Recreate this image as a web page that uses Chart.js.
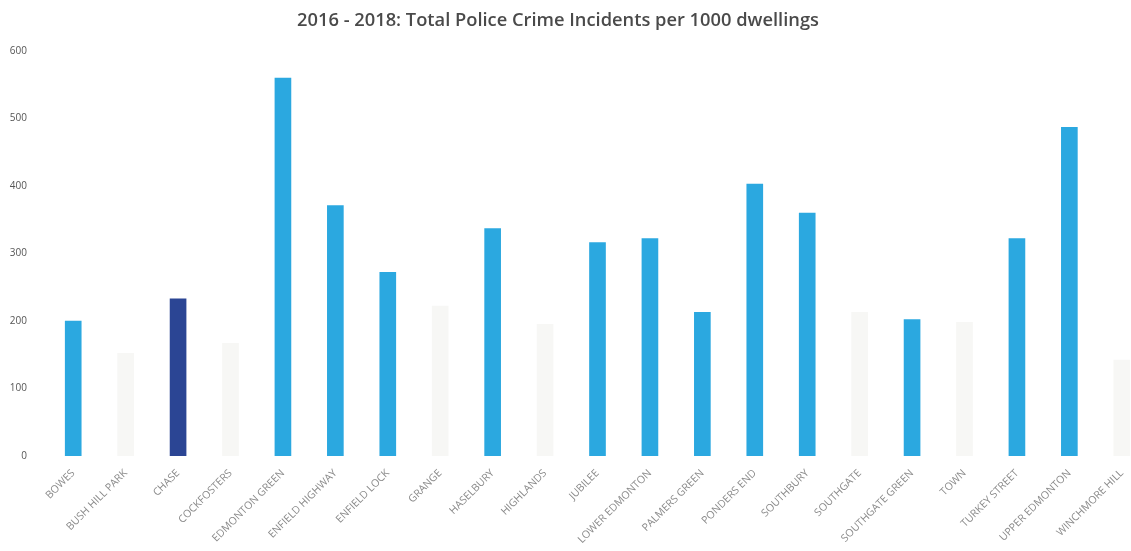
<!DOCTYPE html>
<html>
<head>
<meta charset="utf-8">
<script src="https://cdn.jsdelivr.net/npm/chart.js@4"></script>
<style>
  html, body { margin: 0; padding: 0; background: #fff; overflow: hidden; }
  canvas { display: block; }
</style>
</head>
<body>
<canvas id="chart" width="1150" height="551"></canvas>
<script>
// Wards along the x axis
const wards = [
  "BOWES", "BUSH HILL PARK", "CHASE", "COCKFOSTERS", "EDMONTON GREEN",
  "ENFIELD HIGHWAY", "ENFIELD LOCK", "GRANGE", "HASELBURY", "HIGHLANDS",
  "JUBILEE", "LOWER EDMONTON", "PALMERS GREEN", "PONDERS END", "SOUTHBURY",
  "SOUTHGATE", "SOUTHGATE GREEN", "TOWN", "TURKEY STREET", "UPPER EDMONTON",
  "WINCHMORE HILL"
];

// Total police crime incidents per 1000 dwellings, 2016 - 2018
const incidentsPer1000 = [
  200, 152, 233, 167, 560,
  371, 272, 222, 337, 195,
  316, 322, 213, 403, 360,
  213, 202, 198, 322, 487,
  142
];

// Y axis tick values
const yTicks = [0, 100, 200, 300, 400, 500, 600];

const chartTitle = "2016 - 2018: Total Police Crime Incidents per 1000 dwellings";

// Wards drawn in a washed-out tint, and the highlighted ward
const fadedWards = ["BUSH HILL PARK", "COCKFOSTERS", "GRANGE", "HIGHLANDS", "SOUTHGATE", "TOWN", "WINCHMORE HILL"];
const highlightWard = "CHASE";

const barColors = wards.map(w =>
  w === highlightWard ? "#2b4594" : (fadedWards.includes(w) ? "#f7f7f5" : "#2ba8e0")
);

// Title drawn at a fixed spot above the plot
const titlePlugin = {
  id: "topTitle",
  afterDraw(chart) {
    const ctx = chart.ctx;
    ctx.save();
    ctx.font = "600 18.3px 'Open Sans', sans-serif";
    ctx.fillStyle = "#4a4a4a";
    ctx.textAlign = "center";
    ctx.textBaseline = "middle";
    ctx.fillText(chartTitle, 558, 21);
    ctx.restore();
  }
};

new Chart(document.getElementById("chart"), {
  type: "bar",
  data: {
    labels: wards,
    datasets: [{
      data: incidentsPer1000,
      backgroundColor: barColors,
      borderWidth: 0,
      barThickness: 16
    }]
  },
  options: {
    responsive: false,
    animation: false,
    layout: { padding: { top: 51, right: 2, left: 0, bottom: 0 } },
    plugins: {
      legend: { display: false },
      tooltip: { enabled: false },
      title: { display: false }
    },
    scales: {
      x: {
        grid: { display: false },
        border: { display: false },
        ticks: {
          autoSkip: false,
          maxRotation: 45,
          minRotation: 45,
          padding: 3,
          color: "#8a8a8a",
          font: { family: "'Open Sans', sans-serif", size: 10.5 }
        },
        afterFit(scale) { scale.height = 95; }
      },
      y: {
        min: 0,
        max: 600,
        grid: { display: false },
        border: { display: false },
        afterBuildTicks(scale) { scale.ticks = yTicks.map(v => ({ value: v })); },
        ticks: {
          padding: 12,
          color: "#555",
          font: { family: "'Open Sans', sans-serif", size: 10 }
        },
        afterFit(scale) { scale.width = 47; }
      }
    }
  },
  plugins: [titlePlugin]
});
</script>
</body>
</html>
